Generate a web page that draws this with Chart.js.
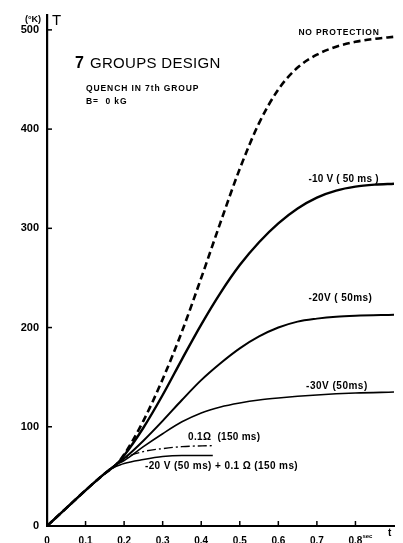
<!DOCTYPE html>
<html>
<head>
<meta charset="utf-8">
<script src="https://cdn.jsdelivr.net/npm/chart.js@4.4.1/dist/chart.umd.min.js"></script>
<style>
  html, body { margin: 0; padding: 0; background: #fff; }
  #wrap { width: 403px; height: 543px; }
</style>
</head>
<body>
<div id="wrap"><canvas id="chart"></canvas></div>
<script>
// time (sec) and temperature (K)
const tMain = [0, 0.05, 0.1, 0.15, 0.18, 0.2, 0.25, 0.3, 0.35, 0.4, 0.45, 0.5, 0.55, 0.6, 0.65, 0.7, 0.75, 0.8, 0.85, 0.9];
const noProtection = [0, 18, 36, 53, 62, 72, 106, 148, 196, 250, 306, 360, 406, 440, 462, 475, 483, 488, 491, 493];
const minus10V = [0, 18, 36, 53, 62, 71, 99, 132, 168, 203, 235, 263, 286, 305, 320, 331, 338, 342, 344, 345];

const t20 = [0, 0.05, 0.1, 0.15, 0.18, 0.2, 0.25, 0.3, 0.35, 0.4, 0.45, 0.5, 0.55, 0.6, 0.65, 0.7, 0.75, 0.8, 0.9];
const minus20V = [0, 18, 36, 53, 62, 68, 86, 106, 127, 147, 164, 179, 191, 200, 206, 209, 211, 212, 213];

const t30 = [0, 0.05, 0.1, 0.15, 0.18, 0.2, 0.25, 0.3, 0.35, 0.4, 0.45, 0.5, 0.55, 0.6, 0.7, 0.8, 0.9];
const minus30V = [0, 18, 36, 53, 62, 66, 80, 93, 105, 114, 120, 124, 127, 129, 132, 134, 135];

const tOhm = [0.18, 0.2, 0.25, 0.3, 0.35, 0.43];
const ohm01 = [62, 68, 75, 78, 80, 81];

const tMix = [0.16, 0.2, 0.25, 0.3, 0.35, 0.43];
const mix20V = [57, 63, 67, 70, 71, 71];

const xTicks = [0, 0.1, 0.2, 0.3, 0.4, 0.5, 0.6, 0.7, 0.8];
const yTicks = [0, 100, 200, 300, 400, 500];

// curve labels, anchored in data units (left edge, middle)
const notes = [
  { text: 'NO PROTECTION', x: 0.652, y: 497, size: 8.5, sp: 0.8 },
  { text: '-10 V ( 50 ms )', x: 0.678, y: 349, size: 10, sp: 0.2 },
  { text: '-20V ( 50ms)', x: 0.678, y: 230, size: 10, sp: 0.4 },
  { text: '-30V (50ms)', x: 0.672, y: 141, size: 10, sp: 0.5 },
  { text: '0.1\u03A9  (150 ms)', x: 0.366, y: 89, size: 10, sp: 0.3 },
  { text: '-20 V (50 ms) + 0.1 \u03A9 (150 ms)', x: 0.254, y: 60, size: 10, sp: 0.4 }
];

function pts(xs, ys) {
  return xs.map((x, i) => ({ x: x, y: ys[i] }));
}

const FONT = '"Liberation Sans", Arial, sans-serif';

const extras = {
  id: 'extras',
  afterDraw(chart) {
    const ctx = chart.ctx;
    const xs = chart.scales.x, ys = chart.scales.y;
    const left = xs.left, bottom = ys.bottom;
    ctx.save();
    ctx.strokeStyle = '#000';
    ctx.lineWidth = 1.5;
    // inside tick marks
    yTicks.slice(1).forEach(v => {
      const py = ys.getPixelForValue(v);
      ctx.beginPath(); ctx.moveTo(left, py); ctx.lineTo(left + 5, py); ctx.stroke();
    });
    xTicks.slice(1).forEach(v => {
      const px = xs.getPixelForValue(v);
      ctx.beginPath(); ctx.moveTo(px, bottom); ctx.lineTo(px, bottom - 5); ctx.stroke();
    });

    ctx.fillStyle = '#000';
    ctx.textBaseline = 'middle';
    ctx.textAlign = 'left';
    notes.forEach(n => {
      ctx.font = 'bold ' + n.size + 'px ' + FONT;
      ctx.letterSpacing = n.sp + 'px';
      ctx.fillText(n.text, xs.getPixelForValue(n.x), ys.getPixelForValue(n.y));
    });
    ctx.letterSpacing = '0px';

    // axis titles
    ctx.font = 'bold 9px ' + FONT;
    ctx.fillText('(\u00B0K)', 25, 20);
    ctx.font = '15px ' + FONT;
    ctx.fillText('T', 52, 21);
    ctx.font = 'bold 6px ' + FONT;
    ctx.fillText('sec', xs.getPixelForValue(0.8) + 7, 536);
    ctx.font = 'bold 10px ' + FONT;
    ctx.fillText('t', xs.getPixelForValue(0.9) - 6, 533);

    // title block
    ctx.font = 'bold 16px ' + FONT;
    ctx.fillText('7', 75, 64);
    ctx.font = '15px ' + FONT;
    ctx.letterSpacing = '0.3px';
    ctx.fillText('GROUPS DESIGN', 90, 64);
    ctx.font = 'bold 8.5px ' + FONT;
    ctx.letterSpacing = '0.9px';
    ctx.fillText('QUENCH IN 7th GROUP', 86, 89);
    ctx.fillText('B=  0 kG', 86, 102);
    ctx.restore();
  }
};

new Chart(document.getElementById('chart'), {
  type: 'line',
  data: {
    datasets: [
      { label: 'No protection', data: pts(tMain, noProtection), borderColor: '#000', borderWidth: 2.6, borderDash: [7, 4] },
      { label: '-10V (50ms)', data: pts(tMain, minus10V), borderColor: '#000', borderWidth: 2.4 },
      { label: '-20V (50ms)', data: pts(t20, minus20V), borderColor: '#000', borderWidth: 2 },
      { label: '-30V (50ms)', data: pts(t30, minus30V), borderColor: '#000', borderWidth: 1.6 },
      { label: '0.1 ohm (150ms)', data: pts(tOhm, ohm01), borderColor: '#000', borderWidth: 1.4, borderDash: [9, 3, 2, 3] },
      { label: '-20V (50ms) + 0.1 ohm (150ms)', data: pts(tMix, mix20V), borderColor: '#000', borderWidth: 1.4 }
    ]
  },
  options: {
    responsive: true,
    maintainAspectRatio: false,
    animation: false,
    layout: { padding: { top: 15, right: 9, left: 0, bottom: 0 } },
    elements: {
      point: { radius: 0 },
      line: { cubicInterpolationMode: 'monotone', fill: false }
    },
    plugins: {
      legend: { display: false },
      tooltip: { enabled: false }
    },
    scales: {
      x: {
        type: 'linear',
        min: 0,
        max: 0.9,
        grid: { display: false },
        border: { display: true, color: '#000', width: 2 },
        afterBuildTicks: s => { s.ticks = xTicks.map(v => ({ value: v })); },
        afterFit: s => { s.height = 17; },
        ticks: {
          padding: 1,
          color: '#000',
          font: { family: FONT, size: 10, weight: 'bold' },
          maxRotation: 0,
          callback: v => (v === 0 ? '0' : v.toFixed(1))
        }
      },
      y: {
        min: 0,
        max: 515,
        grid: { display: false },
        border: { display: true, color: '#000', width: 2.2 },
        afterBuildTicks: s => { s.ticks = yTicks.map(v => ({ value: v })); },
        afterFit: s => { s.width = 47; },
        ticks: {
          padding: 0,
          color: '#000',
          font: { family: FONT, size: 11, weight: 'bold' }
        }
      }
    }
  },
  plugins: [extras]
});
</script>
</body>
</html>
